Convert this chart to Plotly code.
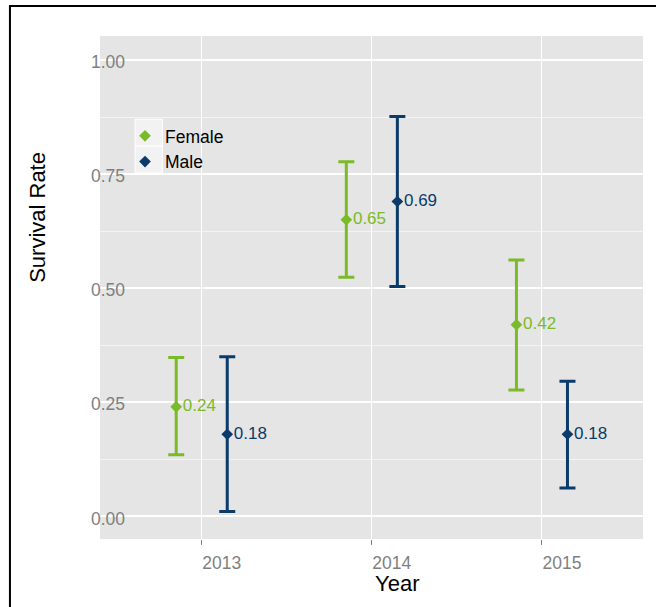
import plotly.graph_objects as go

# Survival estimates by year and sex, with confidence limits
years = [2013, 2014, 2015]
female_rate = [0.24, 0.65, 0.42]
female_lower = [0.135, 0.524, 0.277]
female_upper = [0.348, 0.777, 0.562]
male_rate = [0.18, 0.69, 0.18]
male_lower = [0.011, 0.504, 0.062]
male_upper = [0.350, 0.876, 0.296]
y_ticks = [0.0, 0.25, 0.5, 0.75, 1.0]

GREEN = "#7ABB27"
NAVY = "#0A3B6B"
FONT = "Liberation Sans, Arial, sans-serif"
DODGE = 0.15

# plot area in pixels, used to place paper-referenced decorations
W, H = 656, 607
L, R, T, B = 100, 13.3, 36, 67.7
PW, PH = W - L - R, H - T - B


def px_x(px):
    return (px - L) / PW


def px_y(py):
    return 1 - (py - T) / PH


def series(name, rates, lower, upper, color, offset):
    return go.Scatter(
        x=[yr + offset for yr in years],
        y=rates,
        name=name,
        mode="markers+text",
        marker=dict(symbol="diamond", size=9, color=color),
        error_y=dict(
            type="data",
            symmetric=False,
            array=[u - r for u, r in zip(upper, rates)],
            arrayminus=[r - lo for r, lo in zip(rates, lower)],
            color=color,
            thickness=3,
            width=8,
        ),
        text=[f"{r:.2f}" for r in rates],
        textposition="middle right",
        textfont=dict(family=FONT, size=17, color=color),
        cliponaxis=False,
    )


fig = go.Figure()
fig.add_trace(series("Female", female_rate, female_lower, female_upper, GREEN, -DODGE))
fig.add_trace(series("Male", male_rate, male_lower, male_upper, NAVY, DODGE))

fig.update_layout(
    width=W,
    height=H,
    margin=dict(l=L, r=R, t=T, b=B),
    paper_bgcolor="white",
    plot_bgcolor="#E5E5E5",
    font=dict(family=FONT, color="black"),
    showlegend=True,
    legend=dict(
        x=px_x(125),
        y=px_y(118),
        xanchor="left",
        yanchor="top",
        bgcolor="rgba(0,0,0,0)",
        font=dict(family=FONT, size=17.5, color="black"),
        itemclick=False,
    ),
)

fig.update_xaxes(
    range=[2012.402, 2015.594],
    tickvals=years,
    ticktext=[str(y) for y in years],
    ticks="outside",
    ticklen=5,
    tickwidth=1,
    tickcolor="#7F7F7F",
    ticklabelshift=20,
    ticklabelstandoff=3,
    tickfont=dict(family=FONT, size=17.5, color="#7F7F7F"),
    showgrid=True,
    gridcolor="white",
    gridwidth=1.4,
    zeroline=False,
    showline=False,
)

fig.update_yaxes(
    range=[-0.0495, 1.0526],
    tickvals=y_ticks,
    ticktext=[f"{v:.2f}" for v in y_ticks],
    ticks="",
    ticklabelstandoff=-26,
    ticklabelshift=2,
    tickfont=dict(family=FONT, size=17.5, color="#7F7F7F"),
    showgrid=True,
    gridcolor="white",
    gridwidth=1.8,
    minor=dict(dtick=0.125, showgrid=True, gridcolor="#F4F4F4", gridwidth=1),
    zeroline=False,
    showline=False,
)

# axis titles
fig.add_annotation(
    text="Year", xref="paper", yref="paper",
    x=px_x(397), y=px_y(584), xanchor="center", yanchor="middle",
    showarrow=False, font=dict(family=FONT, size=22, color="black"),
)
fig.add_annotation(
    text="Survival Rate", xref="paper", yref="paper", textangle=-90,
    x=px_x(38), y=px_y(217), xanchor="center", yanchor="middle",
    showarrow=False, font=dict(family=FONT, size=22, color="black"),
)

# legend key backgrounds
for top, bottom in [(119.3, 146.2), (146.2, 173)]:
    fig.add_shape(
        type="rect", xref="paper", yref="paper",
        x0=px_x(135), x1=px_x(162.3), y0=px_y(bottom), y1=px_y(top),
        fillcolor="#F2F2F2", line=dict(color="white", width=1), layer="above",
    )

# outer frame
fig.add_shape(
    type="rect", xref="paper", yref="paper",
    x0=px_x(10), x1=px_x(W + 20), y0=px_y(H + 20), y1=px_y(6),
    line=dict(color="black", width=2), fillcolor="rgba(0,0,0,0)", layer="above",
)

fig.write_html("out.html")
